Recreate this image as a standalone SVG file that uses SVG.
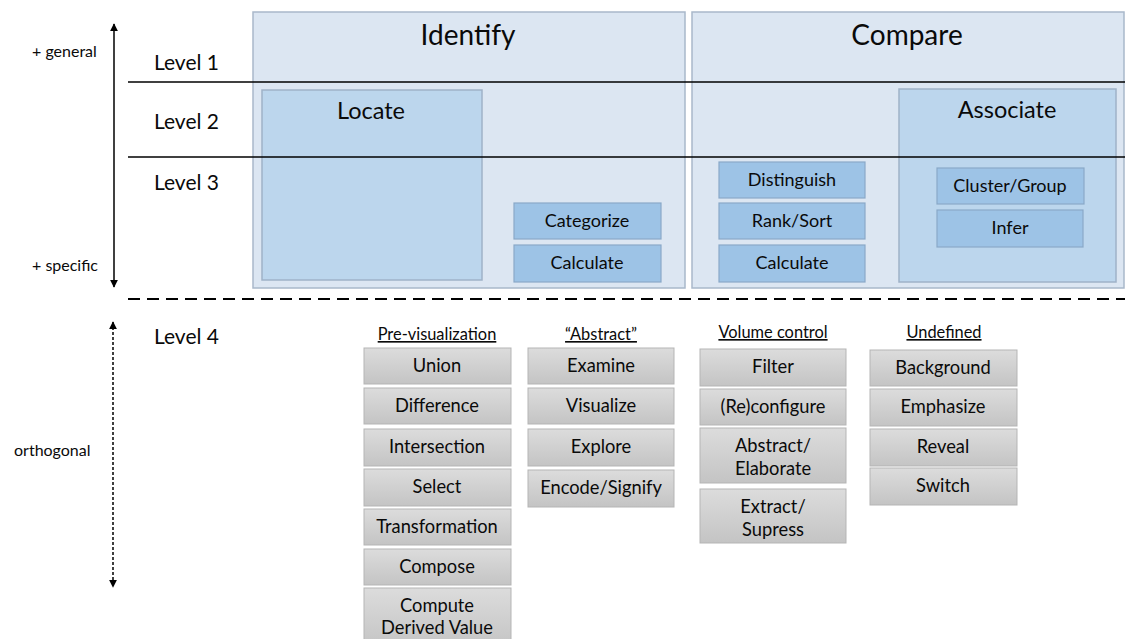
<svg xmlns="http://www.w3.org/2000/svg" width="1125" height="639" viewBox="0 0 1125 639">
  <defs>
    <linearGradient id="grayFill" x1="0" y1="0" x2="0" y2="1">
      <stop offset="0" stop-color="#dcdcdc"/>
      <stop offset="1" stop-color="#c4c4c4"/>
    </linearGradient>
    <marker id="head" viewBox="0 0 10 10" refX="9" refY="5" markerWidth="8" markerHeight="8" markerUnits="userSpaceOnUse" orient="auto-start-reverse">
      <path d="M0,0 L10,5 L0,10 z" fill="#000"/>
    </marker>
    <style>
      text { font-family: Lato, "Open Sans", "Liberation Sans", sans-serif; fill: #0a0a0a; }
      .outer { fill: #dce6f2; stroke: #a9b8ca; stroke-width: 1.5; }
      .mid { fill: #bcd6ed; stroke: #9fb2c8; stroke-width: 1.5; }
      .leaf { fill: #9dc3e6; stroke: #8aa9c8; stroke-width: 1.2; }
      .gray { fill: url(#grayFill); stroke: #b5b5b5; stroke-width: 1; }
      .title { font-size: 28px; text-anchor: middle; }
      .sub { font-size: 23.5px; text-anchor: middle; }
      .lbl { font-size: 18px; text-anchor: middle; }
      .glbl { font-size: 18.3px; text-anchor: middle; }
      .lvl { font-size: 21px; }
      .side { font-size: 16px; }
      .hdr { font-size: 16.4px; text-anchor: middle; text-decoration: underline; }
    </style>
  </defs>

  <!-- scale annotations on the left -->
  <g id="scale">
    <text class="side" x="32" y="57">+ general</text>
    <text class="side" x="32" y="271">+ specific</text>
    <text class="side" x="14" y="456">orthogonal</text>
    <text class="lvl" x="154" y="70">Level 1</text>
    <text class="lvl" x="154" y="129">Level 2</text>
    <text class="lvl" x="154" y="190">Level 3</text>
    <text class="lvl" x="154" y="344">Level 4</text>
  </g>

  <!-- level 1 containers -->
  <g id="identify">
    <rect class="outer" x="253" y="12" width="432" height="276"/>
    <text class="title" x="468" y="45">Identify</text>
  </g>
  <g id="compare">
    <rect class="outer" x="692" y="12" width="432" height="276"/>
    <text class="title" x="907" y="45">Compare</text>
  </g>

  <!-- level 2 -->
  <g id="locate">
    <rect class="mid" x="262" y="90" width="220" height="190"/>
    <text class="sub" x="371" y="119">Locate</text>
  </g>
  <g id="associate">
    <rect class="mid" x="899" y="89" width="217" height="193"/>
    <text class="sub" x="1007" y="118">Associate</text>
  </g>

  <!-- level 3 -->
  <g id="categorize">
    <rect class="leaf" x="514" y="203" width="147" height="36"/>
    <text class="lbl" x="587" y="227">Categorize</text>
  </g>
  <g id="calculate-identify">
    <rect class="leaf" x="514" y="245" width="147" height="37"/>
    <text class="lbl" x="587" y="269">Calculate</text>
  </g>
  <g id="distinguish">
    <rect class="leaf" x="719" y="162" width="146" height="36"/>
    <text class="lbl" x="792" y="186">Distinguish</text>
  </g>
  <g id="rank-sort">
    <rect class="leaf" x="719" y="203" width="146" height="36"/>
    <text class="lbl" x="792" y="227">Rank/Sort</text>
  </g>
  <g id="calculate-compare">
    <rect class="leaf" x="719" y="245" width="146" height="37"/>
    <text class="lbl" x="792" y="269">Calculate</text>
  </g>
  <g id="cluster-group">
    <rect class="leaf" x="937" y="168" width="147" height="36"/>
    <text class="lbl" x="1010" y="192">Cluster/Group</text>
  </g>
  <g id="infer">
    <rect class="leaf" x="937" y="210" width="146" height="37"/>
    <text class="lbl" x="1010" y="234">Infer</text>
  </g>

  <!-- level 4 columns -->
  <g id="pre-visualization">
    <text class="hdr" x="437" y="340">Pre-visualization</text>
    <rect class="gray" x="364" y="348" width="147" height="36"/>
    <text class="glbl" x="437" y="372">Union</text>
    <rect class="gray" x="364" y="388" width="147" height="36"/>
    <text class="glbl" x="437" y="412">Difference</text>
    <rect class="gray" x="364" y="429" width="147" height="37"/>
    <text class="glbl" x="437" y="453">Intersection</text>
    <rect class="gray" x="364" y="469" width="147" height="37"/>
    <text class="glbl" x="437" y="493">Select</text>
    <rect class="gray" x="364" y="509" width="147" height="36"/>
    <text class="glbl" x="437" y="533">Transformation</text>
    <rect class="gray" x="364" y="549" width="147" height="36"/>
    <text class="glbl" x="437" y="573">Compose</text>
    <rect class="gray" x="364" y="588" width="147" height="60"/>
    <text class="glbl" x="437" y="612">Compute</text>
    <text class="glbl" x="437" y="634">Derived Value</text>
  </g>

  <g id="abstract">
    <text class="hdr" x="601" y="340">“Abstract”</text>
    <rect class="gray" x="528" y="348" width="146" height="36"/>
    <text class="glbl" x="601" y="372">Examine</text>
    <rect class="gray" x="528" y="388" width="146" height="36"/>
    <text class="glbl" x="601" y="412">Visualize</text>
    <rect class="gray" x="528" y="429" width="146" height="37"/>
    <text class="glbl" x="601" y="453">Explore</text>
    <rect class="gray" x="528" y="470" width="146" height="37"/>
    <text class="glbl" x="601" y="494">Encode/Signify</text>
  </g>

  <g id="volume-control">
    <text class="hdr" x="773" y="338">Volume control</text>
    <rect class="gray" x="700" y="349" width="146" height="37"/>
    <text class="glbl" x="773" y="373">Filter</text>
    <rect class="gray" x="700" y="389" width="146" height="36"/>
    <text class="glbl" x="773" y="413">(Re)configure</text>
    <rect class="gray" x="700" y="428" width="146" height="55"/>
    <text class="glbl" x="773" y="452">Abstract/</text>
    <text class="glbl" x="773" y="475">Elaborate</text>
    <rect class="gray" x="700" y="489" width="146" height="54"/>
    <text class="glbl" x="773" y="513">Extract/</text>
    <text class="glbl" x="773" y="536">Supress</text>
  </g>

  <g id="undefined">
    <text class="hdr" x="944" y="338">Undefined</text>
    <rect class="gray" x="870" y="350" width="147" height="36"/>
    <text class="glbl" x="943" y="374">Background</text>
    <rect class="gray" x="870" y="389" width="147" height="37"/>
    <text class="glbl" x="943" y="413">Emphasize</text>
    <rect class="gray" x="870" y="429" width="147" height="37"/>
    <text class="glbl" x="943" y="453">Reveal</text>
    <rect class="gray" x="870" y="468" width="147" height="37"/>
    <text class="glbl" x="943" y="492">Switch</text>
  </g>

  <!-- separators and axis arrows -->
  <g id="connectors">
    <line x1="128" y1="82" x2="1125" y2="82" stroke="#000" stroke-width="1.6"/>
    <line x1="128" y1="157" x2="1125" y2="157" stroke="#000" stroke-width="1.6"/>
    <line x1="128" y1="299" x2="1125" y2="299" stroke="#000" stroke-width="2" stroke-dasharray="12 7"/>
    <line x1="114" y1="24" x2="114" y2="287" stroke="#000" stroke-width="1.5" marker-start="url(#head)" marker-end="url(#head)"/>
    <line x1="113" y1="322" x2="113" y2="587" stroke="#000" stroke-width="1.5" stroke-dasharray="3 2" marker-start="url(#head)" marker-end="url(#head)"/>
  </g>
</svg>
